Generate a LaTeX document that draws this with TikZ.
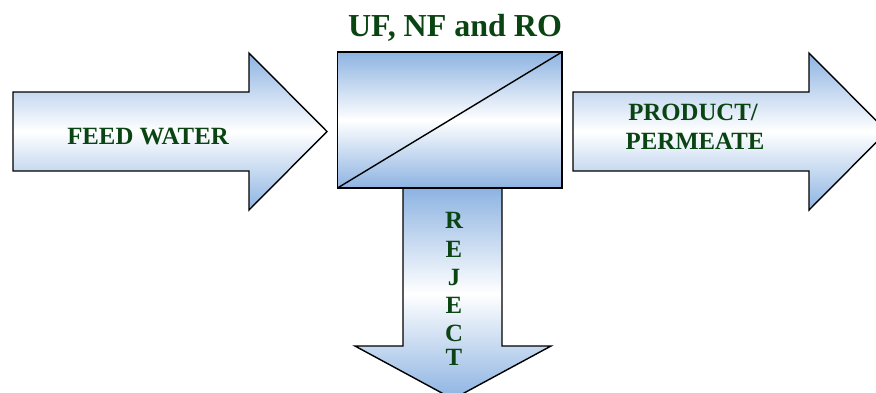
\documentclass[tikz,border=0pt]{standalone}
\usepackage{fontspec}
\setmainfont{Liberation Serif}
\definecolor{blu}{RGB}{141,179,226}
\definecolor{dkgreen}{RGB}{10,68,18}
\tikzset{
  shape3d/.style={top color=blu, bottom color=blu, middle color=white, draw=black, line width=1.4pt, line join=miter},
  lbl/.style={text=dkgreen, font=\bfseries\fontsize{24.8}{29}\selectfont, inner sep=0pt, align=center},
  ttl/.style={text=dkgreen, font=\bfseries\fontsize{32}{36}\selectfont, inner sep=0pt}
}
\begin{document}
\begin{tikzpicture}[x=1pt,y=-1pt]
\useasboundingbox (0,0) rectangle (876,392);
\clip (0,0) rectangle (876,392);
% feed arrow
\shadedraw[shape3d] (13,92) -- (249,92) -- (249,53) -- (327,131.5) -- (249,210) -- (249,171) -- (13,171) -- cycle;
% product arrow
\shadedraw[shape3d] (573,92) -- (809,92) -- (809,53) -- (887,131.5) -- (809,210) -- (809,171) -- (573,171) -- cycle;
% reject arrow
\shadedraw[shape3d] (403,188) -- (502,188) -- (502,346) -- (551,346) -- (453,399) -- (355,346) -- (403,346) -- cycle;
% membrane box
\shadedraw[shape3d] (337.5,52) rectangle (562,188);
\coordinate (bl) at (337.5,188);
\coordinate (tr) at (562,52);
\draw[line width=1.4pt] (bl) -- (tr);
% labels
\node[ttl, anchor=base] (title) at (455,36) {UF, NF and RO};
\node[lbl, anchor=base] (feed) at (148,144) {FEED WATER};
\node[lbl, anchor=base] (prod1) at (693,120) {PRODUCT/};
\node[lbl, anchor=base] (prod2) at (695,149) {PERMEATE};
\node[lbl, anchor=base] (r1) at (454,228) {R};
\node[lbl, anchor=base] (r2) at (454,257) {E};
\node[lbl, anchor=base] (r3) at (454,285) {J};
\node[lbl, anchor=base] (r4) at (454,313) {E};
\node[lbl, anchor=base] (r5) at (454,341) {C};
\node[lbl, anchor=base] (r6) at (454,365) {T};
\end{tikzpicture}
\end{document}
